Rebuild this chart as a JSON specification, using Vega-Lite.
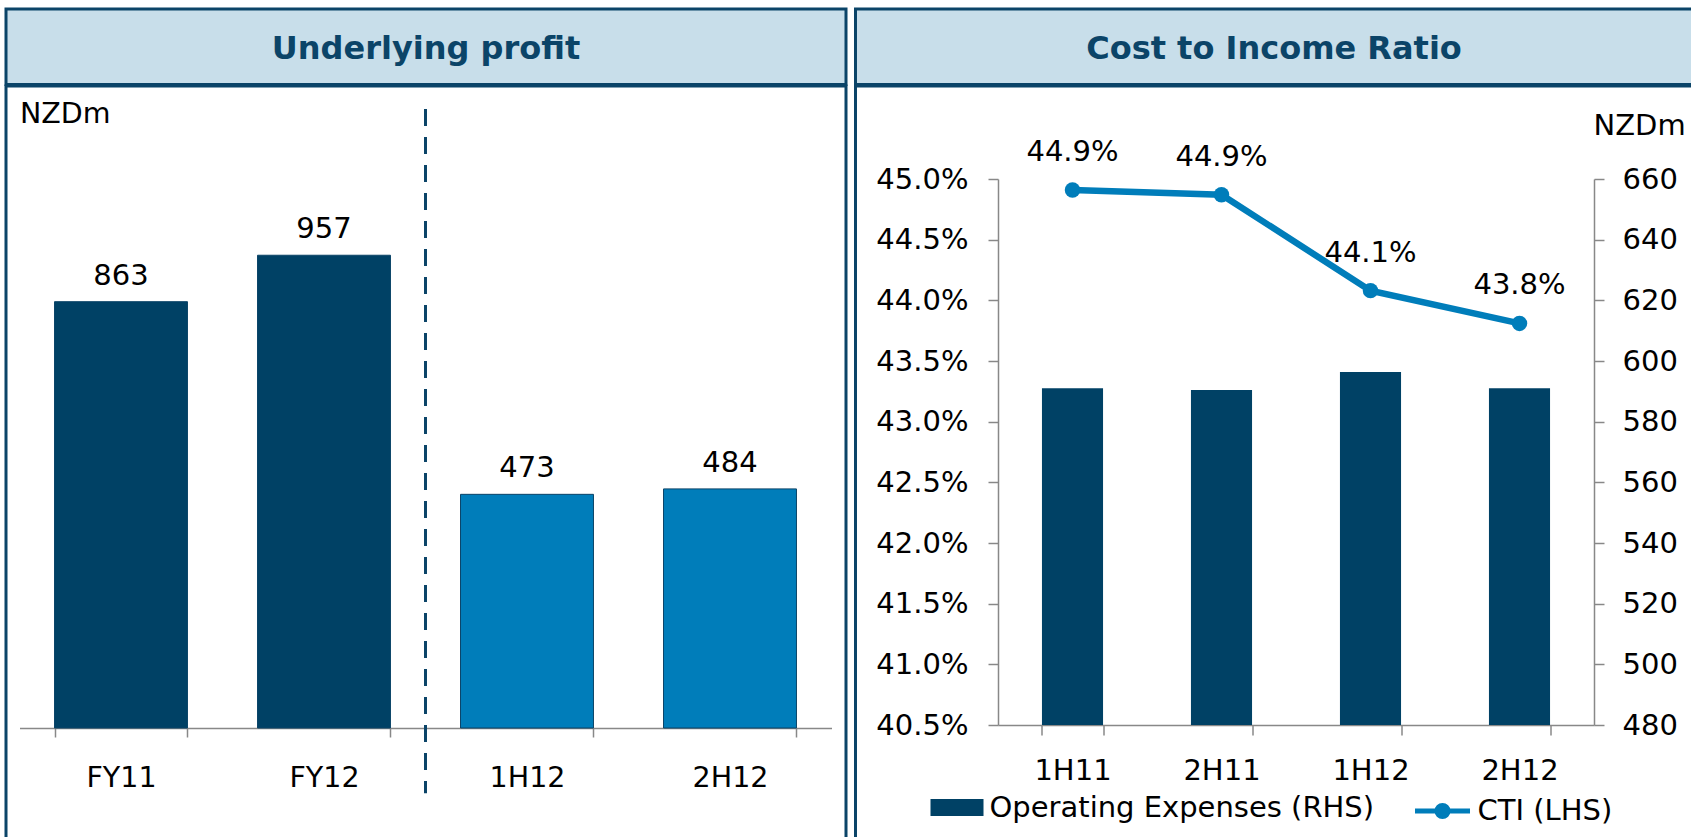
{
  "$schema": "https://vega.github.io/schema/vega-lite/v6.json",
  "padding": {"left": 4, "top": 7, "right": -1, "bottom": -4},
  "background": "white",
  "spacing": 5.5,
  "config": {
    "font": "DejaVu Sans",
    "axis": {"labelFont": "DejaVu Sans", "titleFont": "DejaVu Sans", "labelColor": "#000000", "titleColor": "#000000", "domainColor": "#888888", "tickColor": "#888888", "domainWidth": 1.5, "tickWidth": 1.5, "grid": false},
    "legend": {"labelFont": "DejaVu Sans", "labelColor": "#000000", "labelLimit": 600}
  },
  "hconcat": [
    {
      "spacing": -3,
      "vconcat": [
        {
          "width": 840, "height": 75.5,
          "view": {"fill": "#C8DEEA", "stroke": "#0B4468", "strokeWidth": 3},
          "data": {"values": [{"t": "Underlying profit"}]},
          "mark": {"type": "text", "font": "DejaVu Sans", "fontSize": 32, "fontWeight": "bold", "color": "#0B4468", "baseline": "middle", "dy": 2},
          "encoding": {"text": {"field": "t", "type": "nominal"}}
        },
        {
          "width": 840, "height": 755,
          "view": {"fill": "white", "stroke": "#0B4468", "strokeWidth": 3},
          "data": {"values": [
            {"period": "FY11", "profit": 863, "kind": "FY"},
            {"period": "FY12", "profit": 957, "kind": "FY"},
            {"period": "1H12", "profit": 473, "kind": "H"},
            {"period": "2H12", "profit": 484, "kind": "H"}
          ]},
          "resolve": {"scale": {"x": "independent"}},
          "layer": [
            {
              "layer": [
                {
                  "mark": {"type": "bar", "stroke": "#0B4468", "strokeWidth": 1},
                  "encoding": {
                    "x": {"field": "period", "type": "nominal", "sort": null,
                      "scale": {"range": [13.5, 825.5], "paddingInner": 0.345, "paddingOuter": 0.1725},
                      "axis": {"title": null, "orient": "bottom", "offset": -113, "tickBand": "extent", "tickSize": 9, "labelFontSize": 28.5, "labelPadding": 26, "labelAngle": 0}},
                    "y": {"field": "profit", "type": "quantitative",
                      "scale": {"domain": [0, 1200], "range": [642, 49.2], "nice": false},
                      "axis": {"title": "NZDm", "labels": false, "ticks": false, "domain": false, "titleAngle": 0, "titleX": 13.5, "titleY": 27, "titleAlign": "left", "titleBaseline": "middle", "titleFontSize": 28.5, "titleFontWeight": "normal"}},
                    "color": {"field": "kind", "type": "nominal", "scale": {"domain": ["FY", "H"], "range": ["#004165", "#007DBA"]}, "legend": null}
                  }
                },
                {
                  "mark": {"type": "text", "baseline": "alphabetic", "dy": -17, "fontSize": 29, "color": "#000000"},
                  "encoding": {
                    "x": {"field": "period", "type": "nominal", "sort": null},
                    "y": {"field": "profit", "type": "quantitative", "title": "NZDm"},
                    "text": {"field": "profit", "type": "quantitative"}
                  }
                }
              ]
            },
            {
              "data": {"values": [{"pos": 2, "top": 1253, "bottom": -132}]},
              "mark": {"type": "rule", "strokeDash": [17, 11], "strokeWidth": 3, "color": "#0B4468"},
              "encoding": {
                "x": {"field": "pos", "type": "quantitative", "scale": {"domain": [0, 4], "range": [13.5, 825.5], "nice": false, "zero": false}, "axis": null},
                "y": {"field": "top", "type": "quantitative", "title": "NZDm"},
                "y2": {"field": "bottom"}
              }
            }
          ]
        }
      ]
    },
    {
      "spacing": -3,
      "vconcat": [
        {
          "width": 837, "height": 75.5,
          "view": {"fill": "#C8DEEA", "stroke": "#0B4468", "strokeWidth": 3},
          "data": {"values": [{"t": "Cost to Income Ratio"}]},
          "mark": {"type": "text", "font": "DejaVu Sans", "fontSize": 32, "fontWeight": "bold", "color": "#0B4468", "baseline": "middle", "dy": 2},
          "encoding": {"text": {"field": "t", "type": "nominal"}}
        },
        {
          "width": 837, "height": 755,
          "view": {"fill": "white", "stroke": "#0B4468", "strokeWidth": 3},
          "data": {"values": [
            {"period": "1H11", "opex": 591, "cti": 0.4491, "s1": "Operating Expenses (RHS)", "s2": "CTI (LHS)"},
            {"period": "2H11", "opex": 590.4, "cti": 0.4487, "s1": "Operating Expenses (RHS)", "s2": "CTI (LHS)"},
            {"period": "1H12", "opex": 596.4, "cti": 0.4408, "s1": "Operating Expenses (RHS)", "s2": "CTI (LHS)"},
            {"period": "2H12", "opex": 591, "cti": 0.4381, "s1": "Operating Expenses (RHS)", "s2": "CTI (LHS)"}
          ]},
          "resolve": {"scale": {"y": "independent"}},
          "layer": [
            {
              "mark": {"type": "bar"},
              "encoding": {
                "x": {"field": "period", "type": "nominal", "sort": null,
                  "scale": {"range": [142.5, 738.5], "paddingInner": 0.59, "paddingOuter": 0.295},
                  "axis": {"title": null, "orient": "bottom", "offset": -116, "tickBand": "extent", "tickSize": 10, "labelFontSize": 29, "labelPadding": 21, "labelAngle": 0}},
                "y": {"field": "opex", "type": "quantitative",
                  "scale": {"domain": [480, 660], "range": [639, 93], "zero": false, "nice": false},
                  "axis": {"orient": "right", "offset": -98.5, "values": [480, 500, 520, 540, 560, 580, 600, 620, 640, 660], "tickSize": 10, "labelFontSize": 29, "labelPadding": 18, "title": "NZDm", "titleAngle": 0, "titleX": -1, "titleY": 39, "titleAlign": "left", "titleBaseline": "middle", "titleFontSize": 29, "titleFontWeight": "normal"}},
                "y2": {"datum": 480},
                "fill": {"field": "s1", "type": "nominal", "scale": {"range": ["#004165"]},
                  "legend": {"orient": "none", "legendX": 924.5, "legendY": 772, "title": null, "padding": 0, "symbolType": "M-1,-0.32H1V0.32H-1Z", "symbolSize": 2809, "symbolStrokeWidth": 0, "labelFontSize": 29, "labelOffset": 6, "labelLimit": 600}}
              }
            },
            {
              "layer": [
                {
                  "mark": {"type": "line", "strokeWidth": 6.5},
                  "encoding": {
                    "x": {"field": "period", "type": "nominal", "sort": null},
                    "y": {"field": "cti", "type": "quantitative",
                      "scale": {"domain": [0.405, 0.45], "range": [639, 93], "zero": false, "nice": false},
                      "axis": {"orient": "left", "offset": -142.5, "format": ".1%", "values": [0.405, 0.41, 0.415, 0.42, 0.425, 0.43, 0.435, 0.44, 0.445, 0.45], "tickSize": 10, "labelFontSize": 29, "labelPadding": 20, "title": null}},
                    "stroke": {"field": "s2", "type": "nominal", "scale": {"range": ["#007DBA"]},
                      "legend": {"orient": "none", "legendX": 1406.5, "legendY": 772, "title": null, "padding": 0, "symbolType": "M-1,0H1M-0.2,0A0.2,0.2,0,1,1,0.2,0A0.2,0.2,0,1,1,-0.2,0Z", "symbolSize": 3025, "symbolStrokeWidth": 5, "labelFontSize": 29, "labelOffset": 5, "labelLimit": 600,
                        "encode": {"symbols": {"update": {"fill": {"value": "#007DBA"}, "strokeWidth": {"value": 5}}}}}}
                  }
                },
                {
                  "mark": {"type": "point", "filled": true, "size": 240, "color": "#007DBA", "opacity": 1},
                  "encoding": {
                    "x": {"field": "period", "type": "nominal", "sort": null},
                    "y": {"field": "cti", "type": "quantitative"}
                  }
                },
                {
                  "mark": {"type": "text", "baseline": "middle", "dy": -38, "fontSize": 29, "color": "#000000"},
                  "encoding": {
                    "x": {"field": "period", "type": "nominal", "sort": null},
                    "y": {"field": "cti", "type": "quantitative"},
                    "text": {"field": "cti", "type": "quantitative", "format": ".1%"}
                  }
                }
              ]
            }
          ]
        }
      ]
    }
  ]
}
